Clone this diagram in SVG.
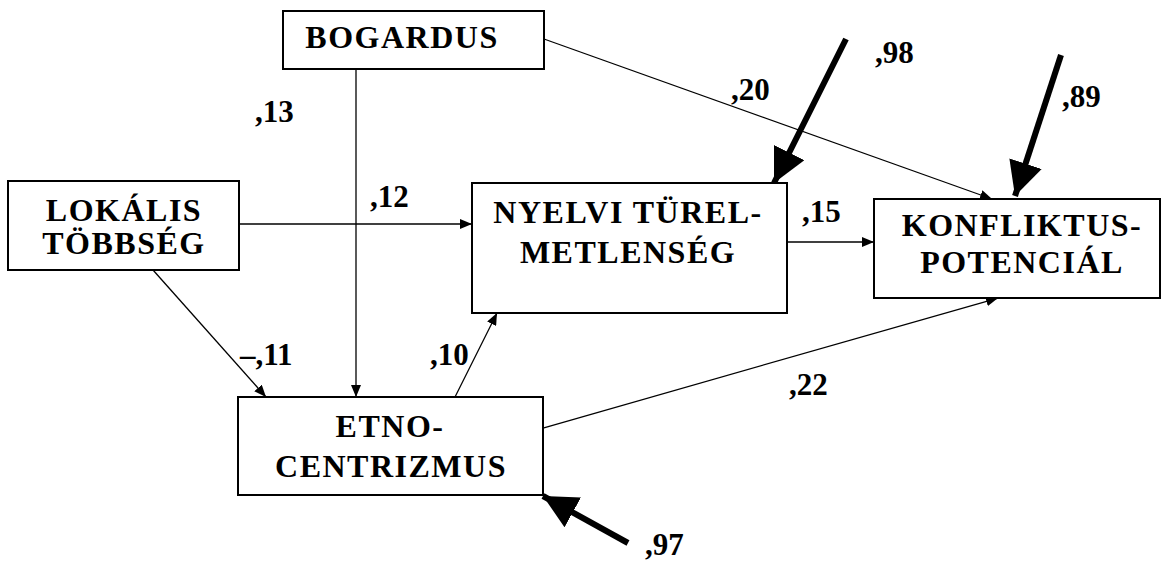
<svg xmlns="http://www.w3.org/2000/svg" width="1167" height="563" viewBox="0 0 1167 563">
<style>
.t{font-weight:bold;font-size:32px;fill:#000;letter-spacing:1.5px}
.c{text-anchor:middle}
.lbl{font-weight:bold;font-size:31px;fill:#000}
.box{fill:#fff;stroke:#000;stroke-width:2}
.e{stroke:#000;stroke-width:1.3;fill:none;marker-end:url(#ah)}
.err{stroke:#000;stroke-width:6;fill:none;marker-end:url(#bh)}
</style>
<defs>
<marker id="ah" markerWidth="12" markerHeight="10" refX="12" refY="5" orient="auto" markerUnits="userSpaceOnUse">
<path d="M0,0 L12,5 L0,10 Z" fill="#000"/>
</marker>
<marker id="bh" markerWidth="34" markerHeight="34" refX="34" refY="17" orient="auto" markerUnits="userSpaceOnUse">
<path d="M0,0 L34,17 L0,34 Z" fill="#000"/>
</marker>
</defs>
<rect width="1167" height="563" fill="#fff"/>
<g id="connectors">
<line class="e" x1="544" y1="39" x2="992" y2="199"/>
<line class="e" x1="356" y1="69" x2="356" y2="397"/>
<line class="e" x1="239" y1="224" x2="472" y2="224"/>
<line class="e" x1="153" y1="270" x2="266" y2="397"/>
<line class="e" x1="455" y1="397" x2="497" y2="313"/>
<line class="e" x1="787" y1="242" x2="874" y2="242"/>
<line class="e" x1="543" y1="428" x2="998" y2="298"/>
<line class="err" x1="846" y1="39" x2="774" y2="183"/>
<line class="err" x1="1061" y1="55" x2="1015" y2="196"/>
<line class="err" x1="628" y1="543" x2="543" y2="496"/>
</g>
<g font-family="Liberation Serif, Times New Roman, serif">
<g id="bogardus">
<rect class="box" x="283" y="11" width="261" height="58"/>
<text class="t c" x="402" y="48">BOGARDUS</text>
</g>
<g id="lokalis">
<rect class="box" x="8" y="181" width="231" height="89"/>
<text class="t c" x="124" y="221">LOKÁLIS</text>
<text class="t c" x="124" y="254">TÖBBSÉG</text>
</g>
<g id="nyelvi">
<rect class="box" x="472" y="183" width="315" height="130"/>
<text class="t c" x="628" y="223">NYELVI TÜREL-</text>
<text class="t c" x="628" y="263">METLENSÉG</text>
</g>
<g id="konfliktus">
<rect class="box" x="874" y="199" width="286" height="99"/>
<text class="t c" x="1022" y="236">KONFLIKTUS-</text>
<text class="t c" x="1022" y="273">POTENCIÁL</text>
</g>
<g id="etno">
<rect class="box" x="238" y="397" width="305" height="98"/>
<text class="t c" x="390" y="437">ETNO-</text>
<text class="t c" x="391" y="477">CENTRIZMUS</text>
</g>
<g id="labels">
<text class="lbl" x="255" y="122">,13</text>
<text class="lbl" x="370" y="207">,12</text>
<text class="lbl" x="731" y="100">,20</text>
<text class="lbl" x="875" y="63">,98</text>
<text class="lbl" x="1062" y="107">,89</text>
<text class="lbl" x="802" y="222">,15</text>
<text class="lbl" x="240" y="365">–,11</text>
<text class="lbl" x="430" y="365">,10</text>
<text class="lbl" x="789" y="395">,22</text>
<text class="lbl" x="645" y="555">,97</text>
</g>
</g>
</svg>
